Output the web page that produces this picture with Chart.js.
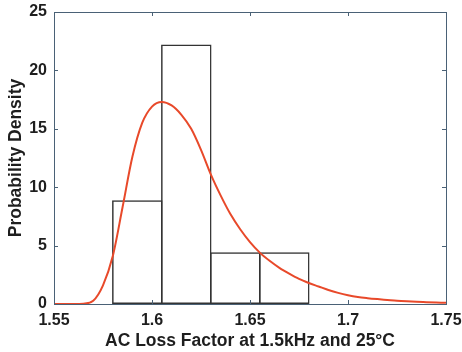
<!DOCTYPE html>
<html><head><meta charset="utf-8">
<script src="https://cdn.jsdelivr.net/npm/chart.js@4/dist/chart.umd.min.js"></script>
<style>html,body{margin:0;padding:0;background:#fff}#c{display:block}</style>
</head><body>
<canvas id="c" width="462" height="352"></canvas>
<script>
// Histogram (bin centres, density) and fitted density curve
const binCenters = [1.5925, 1.6175, 1.6425, 1.6675];
const binDensity = [8.89, 22.22, 4.44, 4.44];
const curveX = [1.550,1.555,1.560,1.565,1.570,1.575,1.580,1.585,1.590,1.595,1.600,1.605,1.610,1.615,1.620,1.625,1.630,1.635,1.640,1.645,1.650,1.655,1.660,1.665,1.670,1.675,1.680,1.685,1.690,1.695,1.700,1.705,1.710,1.715,1.720,1.725,1.730,1.735,1.740,1.745,1.750];
const curveY = [0,0,0,0.03,0.28,1.6,4.1,8.3,12.6,15.5,16.9,17.3,17.0,16.2,15.0,13.2,11.1,9.3,7.7,6.4,5.3,4.4,3.7,3.1,2.6,2.15,1.8,1.5,1.2,0.95,0.75,0.6,0.5,0.42,0.35,0.28,0.23,0.19,0.16,0.13,0.1];
const xTicks = [1.55, 1.6, 1.65, 1.7, 1.75];
const yTicks = [0, 5, 10, 15, 20, 25];
const xTitle = 'AC Loss Factor at 1.5kHz and 25°C';
const yTitle = 'Probability Density';

const AXIS = '#4a6176';
const TXT = '#1e1e1e';
const FONT = "'Liberation Sans', Arial, sans-serif";

const boxTicks = {
  id: 'boxTicks',
  afterDatasetsDraw(chart) {
    const {ctx, chartArea: a, scales: {x, y}} = chart;
    ctx.save();
    ctx.strokeStyle = AXIS;
    ctx.lineWidth = 1;
    ctx.strokeRect(a.left + 0.5, a.top + 0.5, a.right - a.left, a.bottom - a.top);
    const L = 4;
    ctx.beginPath();
    xTicks.forEach(v => {
      const px = Math.round(x.getPixelForValue(v)) + 0.5;
      ctx.moveTo(px, a.bottom); ctx.lineTo(px, a.bottom - L);
      ctx.moveTo(px, a.top); ctx.lineTo(px, a.top + L);
    });
    yTicks.forEach(v => {
      const py = Math.round(y.getPixelForValue(v)) + 0.5;
      ctx.moveTo(a.left, py); ctx.lineTo(a.left + L, py);
      ctx.moveTo(a.right, py); ctx.lineTo(a.right - L, py);
    });
    ctx.stroke();
    ctx.restore();
  }
};

const noPad = s => { s.paddingLeft = 0; s.paddingRight = 0; s.paddingTop = 0; s.paddingBottom = 0; };

new Chart(document.getElementById('c'), {
  type: 'bar',
  data: {
    datasets: [
      {
        type: 'line',
        data: curveX.map((v, i) => ({x: v, y: curveY[i]})),
        borderColor: '#e8492a',
        borderWidth: 2,
        pointRadius: 0,
        cubicInterpolationMode: 'monotone',
        fill: false,
        order: 0
      },
      {
        type: 'bar',
        data: binCenters.map((v, i) => ({x: v, y: binDensity[i]})),
        backgroundColor: 'rgba(255,255,255,0)',
        borderColor: '#333333',
        borderWidth: 1.5,
        borderSkipped: false,
        barPercentage: 1.03,
        categoryPercentage: 1,
        order: 1
      }
    ]
  },
  options: {
    responsive: false,
    animation: false,
    layout: {padding: {left: 0, right: 16, top: 12, bottom: 0}},
    plugins: {legend: {display: false}, tooltip: {enabled: false}},
    scales: {
      x: {
        type: 'linear',
        min: 1.55, max: 1.75,
        offset: false,
        afterBuildTicks: s => { s.ticks = xTicks.map(v => ({value: v})); },
        afterFit: s => { s.height = 48; noPad(s); },
        grid: {display: false, drawTicks: false, offset: false},
        border: {display: false},
        ticks: {color: TXT, padding: 7, maxRotation: 0, autoSkip: false,
                font: {family: FONT, size: 16, weight: 'bold'},
                callback: v => String(v)},
        title: {display: true, text: xTitle, color: TXT, padding: {top: 0, bottom: 0},
                font: {family: FONT, size: 17.5, weight: 'bold'}}
      },
      y: {
        min: 0, max: 25,
        afterBuildTicks: s => { s.ticks = yTicks.map(v => ({value: v})); },
        afterFit: s => { s.width = 54; noPad(s); },
        grid: {display: false, drawTicks: false},
        border: {display: false},
        ticks: {color: TXT, padding: 7,
                font: {family: FONT, size: 16, weight: 'bold'}},
        title: {display: true, text: yTitle, color: TXT, padding: {top: 6, bottom: 0},
                font: {family: FONT, size: 17.5, weight: 'bold'}}
      }
    }
  },
  plugins: [boxTicks]
});
</script>
</body></html>
